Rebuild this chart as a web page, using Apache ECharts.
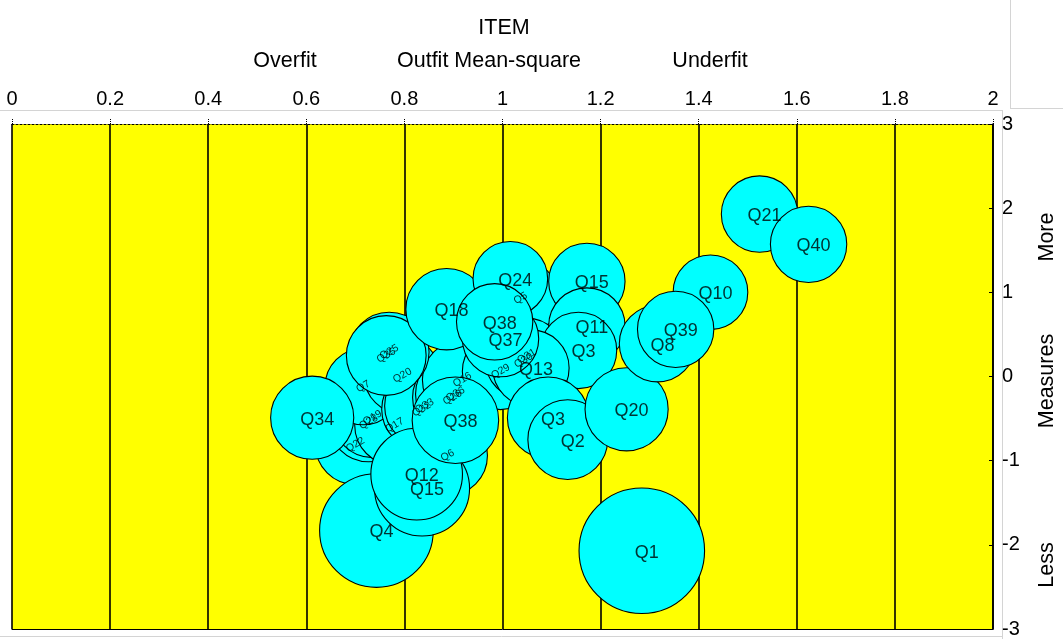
<!DOCTYPE html>
<html>
<head>
<meta charset="utf-8">
<script src="https://cdn.jsdelivr.net/npm/echarts@6/dist/echarts.min.js"></script>
<style>
  html, body { margin: 0; padding: 0; background: #ffffff; }
  #chart { width: 1063px; height: 639px; }
</style>
</head>
<body>
<div id="chart"></div>
<script>
// ---- Item fit data: outfit mean-square (x), measure in logits (y), model S.E. (bubble radius, logits)

// Items printed with full-size labels
const mainItems   = ['Q1', 'Q4', 'Q15', 'Q12', 'Q34', 'Q38', 'Q18', 'Q24', 'Q15', 'Q11', 'Q3', 'Q13', 'Q37', 'Q38', 'Q3', 'Q2', 'Q20', 'Q8', 'Q10', 'Q39', 'Q21', 'Q40'];
const mainOutfit  = [1.284, 0.743, 0.836, 0.825, 0.612, 0.904, 0.886, 1.016, 1.172, 1.172, 1.155, 1.058, 0.996, 0.984, 1.093, 1.133, 1.253, 1.316, 1.424, 1.353, 1.524, 1.624];
const mainMeasure = [-2.07, -1.83, -1.33, -1.16, -0.49, -0.52, 0.80, 1.16, 1.13, 0.60, 0.31, 0.10, 0.45, 0.65, -0.49, -0.75, -0.39, 0.39, 1.00, 0.56, 1.93, 1.57];
const mainSE      = [0.74, 0.67, 0.56, 0.54, 0.49, 0.51, 0.48, 0.44, 0.45, 0.45, 0.45, 0.45, 0.45, 0.45, 0.48, 0.47, 0.49, 0.45, 0.44, 0.45, 0.45, 0.45];

// Items in the crowded middle of the map, printed with small slanted labels
const packedItems   = ['Q22', 'Q28', 'Q19', 'Q17', 'Q6', 'Q7', 'Q20', 'Q32', 'Q33', 'Q26', 'Q36', 'Q16', 'Q5', 'Q29', 'Q30', 'Q31', 'Q25', 'Q35'];
const packedOutfit  = [0.700, 0.727, 0.735, 0.780, 0.888, 0.716, 0.796, 0.835, 0.841, 0.898, 0.904, 0.918, 1.037, 0.996, 1.043, 1.049, 0.769, 0.763];
const packedMeasure = [-0.81, -0.54, -0.49, -0.58, -0.94, -0.12, 0.01, -0.39, -0.35, -0.25, -0.21, -0.04, 0.93, 0.06, 0.19, 0.24, 0.29, 0.25];
const packedSE      = [0.47, 0.47, 0.47, 0.47, 0.47, 0.45, 0.45, 0.47, 0.47, 0.47, 0.47, 0.47, 0.45, 0.45, 0.45, 0.45, 0.47, 0.47];

// Axis scales
const outfitTicks  = [0, 0.2, 0.4, 0.6, 0.8, 1, 1.2, 1.4, 1.6, 1.8, 2];
const measureTicks = [-3, -2, -1, 0, 1, 2, 3];

// ---- Layout
const FONT = '"Liberation Sans", Arial, sans-serif';
const GRID = { left: 12, top: 124, width: 981, height: 509 };
const yMin = measureTicks[0], yMax = measureTicks[measureTicks.length - 1];
const pxPerLogit = GRID.height / (yMax - yMin);

function toPoints(names, xs, ys, ses) {
  return names.map((n, i) => ({ name: n, value: [xs[i], ys[i], ses[i]] }));
}
const mainPts   = toPoints(mainItems, mainOutfit, mainMeasure, mainSE);
const packedPts = toPoints(packedItems, packedOutfit, packedMeasure, packedSE);

const bubbleStyle = { color: '#00FFFF', opacity: 1, borderColor: '#000000', borderWidth: 1.1 };
const bubbleSize = v => 2 * v[2] * pxPerLogit;

function bubbleSeries(data, z) {
  return {
    type: 'scatter', data: data, z: z, silent: true,
    symbol: 'circle', symbolSize: bubbleSize,
    itemStyle: bubbleStyle,
    emphasis: { disabled: true },
    label: { show: false }
  };
}
function labelSeries(data, labelOpts) {
  return {
    type: 'scatter', data: data, z: 10, silent: true,
    symbolSize: 1, itemStyle: { color: 'rgba(0,0,0,0)' },
    emphasis: { disabled: true },
    label: Object.assign({ show: true, position: 'inside', formatter: '{b}', fontFamily: FONT }, labelOpts)
  };
}

const chart = echarts.init(document.getElementById('chart'), null, { renderer: 'canvas' });

const titleFont = '21.5px ' + FONT;

chart.setOption({
  animation: false,
  backgroundColor: '#ffffff',
  grid: Object.assign({ show: true, backgroundColor: '#FFFF00', borderWidth: 0 }, GRID),
  xAxis: [
    {
      type: 'value', position: 'top',
      min: outfitTicks[0], max: outfitTicks[outfitTicks.length - 1], interval: 0.2,
      axisLine: { show: true, onZero: false, lineStyle: { color: '#000', width: 1, type: [2, 2] } },
      axisTick: { show: true, length: 5, lineStyle: { color: '#000', type: [1, 1] } },
      axisLabel: { show: true, margin: 15, fontSize: 20, color: '#000', fontFamily: FONT },
      splitLine: { show: true, lineStyle: { color: '#000', width: 1.6 } }
    },
    {
      type: 'value', position: 'bottom',
      min: outfitTicks[0], max: outfitTicks[outfitTicks.length - 1], interval: 0.2,
      axisLine: { show: true, onZero: false, lineStyle: { color: '#000', width: 1 } },
      axisTick: { show: false }, axisLabel: { show: false }, splitLine: { show: false }
    }
  ],
  yAxis: [
    {
      type: 'value', position: 'right',
      min: yMin, max: yMax, interval: 1,
      axisLine: { show: true, onZero: false, lineStyle: { color: '#000', width: 1.6 } },
      axisTick: { show: true, inside: true, length: 4, lineStyle: { color: '#000' } },
      axisLabel: { show: true, margin: 9, fontSize: 20, color: '#000', fontFamily: FONT },
      splitLine: { show: false }
    }
  ],
  series: [
    bubbleSeries(packedPts, 2),
    bubbleSeries(mainPts, 3),
    labelSeries(packedPts, { fontSize: 10.5, color: '#000000', rotate: 30 }),
    labelSeries(mainPts, { fontSize: 18, color: '#000', offset: [5, 2] })
  ],
  graphic: [
    // thin frame lines around the plot panel
    { type: 'line', silent: true, shape: { x1: 0, y1: 110.5, x2: 1003, y2: 110.5 }, style: { stroke: '#d4d4d4', lineWidth: 1 } },
    { type: 'line', silent: true, shape: { x1: 1010.5, y1: 0, x2: 1010.5, y2: 108.5 }, style: { stroke: '#d4d4d4', lineWidth: 1 } },
    { type: 'line', silent: true, shape: { x1: 1010, y1: 108.5, x2: 1063, y2: 108.5 }, style: { stroke: '#d4d4d4', lineWidth: 1 } },
    { type: 'line', silent: true, shape: { x1: 1002.5, y1: 110, x2: 1002.5, y2: 639 }, style: { stroke: '#d4d4d4', lineWidth: 1 } },
    { type: 'line', silent: true, shape: { x1: 0, y1: 636.5, x2: 1003, y2: 636.5 }, style: { stroke: '#d4d4d4', lineWidth: 1 } },
    // axis titles
    { type: 'text', silent: true, x: 504, y: 28, style: { text: 'ITEM', font: titleFont, fill: '#000', textAlign: 'center', textVerticalAlign: 'middle' } },
    { type: 'text', silent: true, x: 285, y: 61, style: { text: 'Overfit', font: titleFont, fill: '#000', textAlign: 'center', textVerticalAlign: 'middle' } },
    { type: 'text', silent: true, x: 489, y: 61, style: { text: 'Outfit Mean-square', font: titleFont, fill: '#000', textAlign: 'center', textVerticalAlign: 'middle' } },
    { type: 'text', silent: true, x: 710, y: 61, style: { text: 'Underfit', font: titleFont, fill: '#000', textAlign: 'center', textVerticalAlign: 'middle' } },
    { type: 'text', silent: true, x: 1047, y: 237, rotation: Math.PI / 2, style: { text: 'More', font: titleFont, fill: '#000', textAlign: 'center', textVerticalAlign: 'middle' } },
    { type: 'text', silent: true, x: 1047, y: 381, rotation: Math.PI / 2, style: { text: 'Measures', font: titleFont, fill: '#000', textAlign: 'center', textVerticalAlign: 'middle' } },
    { type: 'text', silent: true, x: 1047, y: 565, rotation: Math.PI / 2, style: { text: 'Less', font: titleFont, fill: '#000', textAlign: 'center', textVerticalAlign: 'middle' } }
  ]
});
</script>
</body>
</html>
